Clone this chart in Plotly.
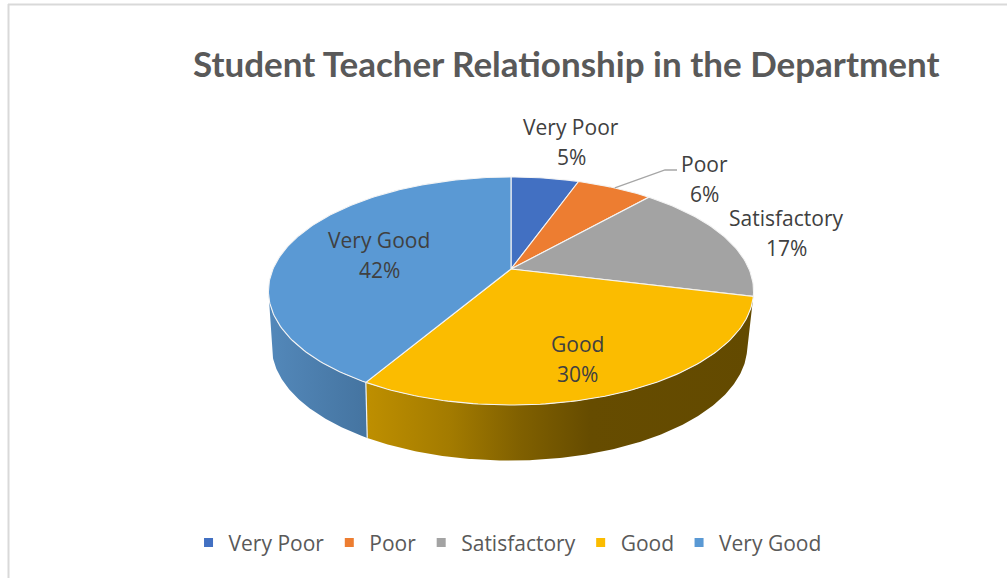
import math
import plotly.graph_objects as go

categories = ["Very Poor", "Poor", "Satisfactory", "Good", "Very Good"]
values = [5.45, 6.1, 17.3, 29.7, 41.55]
colors = ["#4270c2", "#ed7d31", "#a3a3a3", "#fbbc00", "#5a99d4"]

# wall shading: (x pixel, colour) stops per category
wall_stops = {
    "Good": [(370, "#bd8e00"), (450, "#a37b00"), (520, "#806000"), (590, "#664c00"), (755, "#634a00")],
    "Very Good": [(268, "#5388ba"), (372, "#44739f")],
}
label_pos = {"Very Poor": (571, 127), "Poor": (704, 164), "Satisfactory": (786, 218), "Good": (577, 344), "Very Good": (379, 240)}
LINE_GAP = 30

W, H = 1007, 578
CX, CY = 511, 269
A, B, K = 238, 109.8, 0.193
DEPTH, XSCALE, BOTTOM_CX = 55.5, 0.98, 509.5
FONT = "Open Sans"
TITLE_FONT = "Lato"


def top(theta):
    u, v = math.sin(theta), math.cos(theta)
    d = 1 + K * v
    return CX + A * u / d, CY - B * v / d


def bottom(theta):
    x, y = top(theta)
    return BOTTOM_CX + XSCALE * (x - CX), y + DEPTH


total = sum(values)
edges = [0.0]
for v in values:
    edges.append(edges[-1] + v / total * 2 * math.pi)

fig = go.Figure()

# side walls, one polygon per slice with a horizontal gradient
for name, t0, t1 in zip(categories, edges, edges[1:]):
    stops = wall_stops.get(name)
    if not stops:
        continue
    # keep only the part of the rim that faces the viewer (up to the silhouette, where cos = -K)
    n = max(2, int((t1 - t0) / math.radians(0.5)))
    ts = [t0 + (t1 - t0) * i / n for i in range(n + 1)]
    ts = [t for t in ts if math.cos(t) <= -K]
    pts = [top(t) for t in ts] + [bottom(t) for t in reversed(ts)]
    pts.append(pts[0])
    x0, x1 = stops[0][0], stops[-1][0]
    scale = [[(x - x0) / (x1 - x0), c] for x, c in stops]
    fig.add_trace(go.Scatter(x=[p[0] for p in pts], y=[p[1] for p in pts], mode="lines", fill="toself",
                             fillgradient=dict(type="horizontal", colorscale=scale, start=x0, stop=x1),
                             line=dict(width=0), showlegend=False, hoverinfo="skip"))

# white edge between the two visible walls
t = edges[4]
fig.add_trace(go.Scatter(x=[top(t)[0], bottom(t)[0]], y=[top(t)[1], bottom(t)[1]], mode="lines",
                         line=dict(color="#eef2f6", width=1.2), showlegend=False, hoverinfo="skip"))

# top faces
for name, col, t0, t1 in zip(categories, colors, edges, edges[1:]):
    n = max(8, int((t1 - t0) / math.radians(1.0)))
    pts = [(CX, CY)] + [top(t0 + (t1 - t0) * i / n) for i in range(n + 1)] + [(CX, CY)]
    fig.add_trace(go.Scatter(x=[p[0] for p in pts], y=[p[1] for p in pts], mode="lines", fill="toself", name=name,
                             fillcolor=col, line=dict(color="#f4f4f4", width=1.1), showlegend=False,
                             hovertemplate=name + "<extra></extra>"))

# leader line for Poor
mid = (edges[1] + edges[2]) / 2
sx, sy = top(mid)
fig.add_trace(go.Scatter(x=[sx, 665, 677], y=[sy, 170, 170], mode="lines", line=dict(color="#a6a6a6", width=1.3),
                         showlegend=False, hoverinfo="skip"))

# legend entries
for name, col in zip(categories, colors):
    fig.add_trace(go.Scatter(x=[None], y=[None], mode="markers", name=name,
                             marker=dict(symbol="square", size=9, color=col)))

ann = []
for name, v in zip(categories, values):
    x, y = label_pos[name]
    for txt, yy in ((name, y), (f"{round(v)}%", y + LINE_GAP)):
        ann.append(dict(x=x, y=yy, xref="x", yref="y", text=txt, showarrow=False, xanchor="center", yanchor="middle",
                        font=dict(family=FONT, size=21, color="#404040")))
ann.append(dict(x=566, y=62.5, xref="x", yref="y", text="<b>Student Teacher Relationship in the Department</b>",
                showarrow=False, xanchor="center", yanchor="middle", font=dict(family=TITLE_FONT, size=35, color="#595959")))

frame = dict(color="#d9d9d9", width=2)
fig.update_layout(
    width=W, height=H, margin=dict(l=0, r=0, t=0, b=0), paper_bgcolor="white", plot_bgcolor="white",
    xaxis=dict(range=[0, W], visible=False, fixedrange=True),
    yaxis=dict(range=[H, 0], visible=False, fixedrange=True),
    annotations=ann,
    shapes=[dict(type="line", x0=8, x1=W, y0=4.5, y1=4.5, xref="x", yref="y", line=frame),
            dict(type="line", x0=8.5, x1=8.5, y0=4, y1=H, xref="x", yref="y", line=frame)],
    legend=dict(orientation="h", x=0.504, xanchor="center", y=0.061, yanchor="middle",
                font=dict(family=FONT, size=21, color="#595959"), itemwidth=30, bgcolor="rgba(0,0,0,0)"),
    showlegend=True,
)
fig.write_html("out.html", config=dict(displayModeBar=False),
               post_script="document.body.style.margin='0';document.documentElement.style.overflow='hidden';")
